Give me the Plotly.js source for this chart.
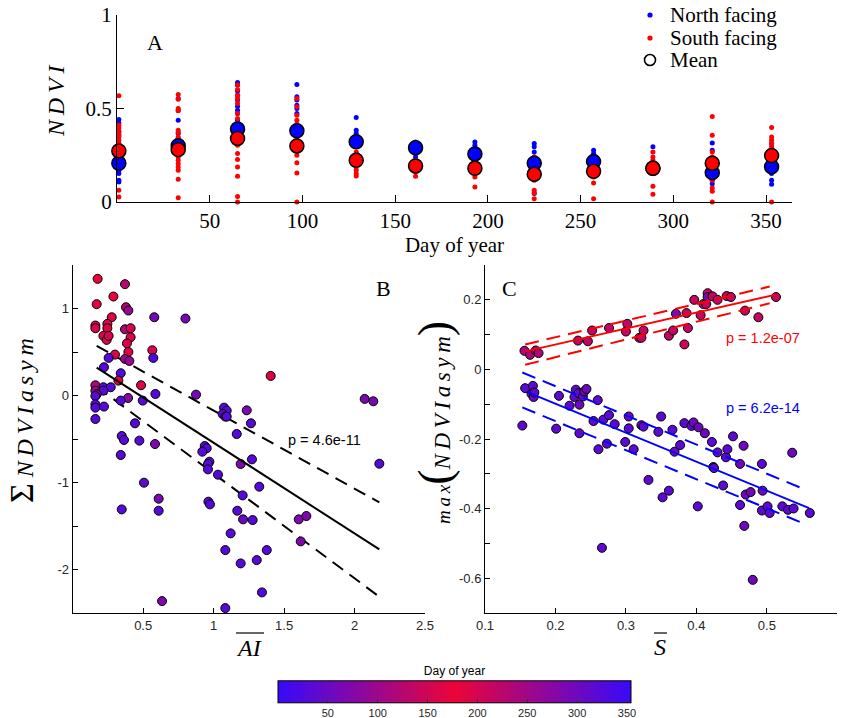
<!DOCTYPE html>
<html>
<head>
<meta charset="utf-8">
<script src="https://cdn.plot.ly/plotly-3.0.1.min.js"></script>
<style>html,body{margin:0;padding:0;background:#fff}#chart{width:845px;height:718px}</style>
</head>
<body>
<div id="chart"></div>
<script>
// ---------- Panel A data ----------
const days = [1, 33, 65, 97, 129, 161, 193, 225, 257, 289, 321, 353];
const northVals = [
  [0.441, 0.423, 0.375, 0.357, 0.259, 0.223, 0.20, 0.1875, 0.17, 0.152, 0.116, 0.107],
  [0.554, 0.491, 0.4375, 0.366, 0.339, 0.321, 0.30, 0.286, 0.27],
  [0.639, 0.625, 0.593, 0.571, 0.545, 0.5125, 0.491, 0.473, 0.4375, 0.41, 0.375, 0.348, 0.3125],
  [0.629, 0.5625, 0.545, 0.518, 0.5, 0.473, 0.402, 0.366, 0.33],
  [0.452, 0.384, 0.366, 0.348, 0.295, 0.259],
  [0.321, 0.304, 0.277, 0.259, 0.241],
  [0.321, 0.304, 0.28, 0.223],
  [0.3125, 0.295, 0.268, 0.241, 0.223, 0.045],
  [0.277, 0.259, 0.241, 0.196],
  [0.295, 0.205],
  [0.316, 0.277, 0.152, 0.135, 0.116, 0.098],
  [0.3125, 0.241, 0.2, 0.152, 0.116, 0.095]
];
const southVals = [
  [0.568, 0.41, 0.396, 0.38, 0.366, 0.348, 0.33, 0.313, 0.268, 0.0625, 0.027],
  [0.575, 0.55, 0.5, 0.4875, 0.384, 0.371, 0.348, 0.334, 0.241, 0.223, 0.205, 0.1875, 0.17, 0.121, 0.023],
  [0.625, 0.602, 0.571, 0.554, 0.527, 0.473, 0.446, 0.304, 0.259, 0.227, 0.1875, 0.1375, 0.03, 0.0],
  [0.554, 0.509, 0.464, 0.4375, 0.416, 0.393, 0.348, 0.277, 0.25, 0.21, 0.155, 0.0],
  [0.268, 0.241, 0.205, 0.1875, 0.17, 0.152, 0.139],
  [0.223, 0.1875, 0.16, 0.1375],
  [0.1875, 0.152, 0.134, 0.08],
  [0.241, 0.1875, 0.116, 0.0625, 0.048, 0.018],
  [0.15, 0.134, 0.102, 0.018],
  [0.268, 0.241, 0.223, 0.152, 0.084, 0.041],
  [0.457, 0.357, 0.268, 0.241, 0.116, 0.075, 0.057, 0.0],
  [0.398, 0.348, 0.33, 0.3125, 0.295, 0.277, 0.0]
];
const northMean = [0.207, 0.301, 0.39, 0.381, 0.322, 0.29, 0.257, 0.207, 0.216, 0.18, 0.157, 0.189];
const southMean = [0.273, 0.28, 0.34, 0.30, 0.223, 0.193, 0.18, 0.148, 0.164, 0.18, 0.207, 0.248];
const dayTicks = [50, 100, 150, 200, 250, 300, 350];
const legendLabels = ['North facing', 'South facing', 'Mean'];

// ---------- Panel B data ----------
const bAI = [0.177,0.371,0.170,0.289,0.378,0.395,0.579,0.800,0.277,0.161,0.161,0.246,0.246,0.371,0.411,0.218,0.241,0.255,0.411,0.385,
  0.395,0.300,0.565,0.572,0.255,0.371,0.402,0.222,0.341,0.324,0.485,0.161,0.218,0.270,0.161,0.218,0.170,0.161,0.587,0.875,
  0.393,0.341,0.497,0.161,0.161,0.222,0.161,0.442,0.348,0.364,0.473,0.584,0.341,0.506,0.348,0.610,0.610,0.634,1.074,1.093,
  1.064,1.083,1.093,1.235,1.265,1.164,0.937,0.951,0.920,0.970,0.960,0.960,1.192,1.031,1.272,0.963,0.974,1.206,1.324,1.168,
  1.209,1.277,1.121,1.083,1.192,1.306,1.377,1.343,1.083,1.405,2.072,2.133,2.176,1.604,1.658,1.618];
const bSum = [1.341,1.28,1.05,1.138,1.015,0.977,0.90,0.885,0.90,0.805,0.774,0.824,0.774,0.762,0.774,0.686,0.64,0.686,0.67,0.60,
  0.502,0.471,0.521,0.433,0.433,0.421,0.398,0.326,0.257,0.172,0.119,0.119,0.096,0.096,0.057,0.057,0.015,-0.004,0.019,0.011,
  -0.027,-0.057,-0.057,-0.10,-0.138,-0.126,-0.268,-0.318,-0.464,-0.51,-0.517,-0.556,-0.682,-1.0,-1.307,-1.184,-1.322,-2.36,-0.138,-0.172,
  -0.211,-0.241,-0.241,-0.169,-0.318,-0.441,-0.579,-0.605,-0.644,-0.759,-0.785,-0.847,-0.785,-0.908,-0.732,-1.218,-1.249,-1.146,-1.046,-1.322,
  -1.421,-1.429,-1.582,-1.774,-1.927,-1.889,-1.774,-2.26,-2.44,0.226,-0.038,-0.065,-0.782,-1.421,-1.383,-1.674];
const bDay = [177,125,170,175,120,95,60,60,165,150,160,160,165,115,160,165,160,155,160,160,
  165,160,160,25,30,95,95,30,25,165,165,120,30,30,100,30,115,30,30,60,
  80,30,30,30,30,30,30,30,30,30,30,70,30,40,30,70,30,70,30,30,
  30,80,30,70,30,30,30,30,30,30,30,30,70,30,30,30,30,30,30,30,
  50,30,30,30,30,30,30,30,30,165,65,65,30,70,70,70];
const bFitX = [0.170, 2.176];
const bFitY = [0.322, -1.766];
const bUpperY = [0.571, -1.226];
const bLowerY = [0.103, -2.31];

// ---------- Panel C data ----------
const cPosS = [0.156,0.164,0.172,0.176,0.232,0.246,0.252,0.276,0.300,0.302,0.319,0.322,0.325,0.361,0.367,0.371,0.383,0.386,0.388,0.397,
  0.406,0.410,0.414,0.416,0.416,0.423,0.430,0.443,0.449,0.469,0.488,0.513];
const cPosMax = [0.0536,0.042,0.0545,0.047,0.083,0.081,0.112,0.119,0.109,0.131,0.091,0.091,0.112,0.097,0.112,0.160,0.072,0.162,0.119,0.200,
  0.156,0.188,0.188,0.219,0.208,0.210,0.200,0.211,0.208,0.169,0.150,0.208];
const cPosDay = [115,115,120,115,130,135,140,135,140,140,140,140,140,140,140,70,145,140,140,145,
  140,140,140,140,70,140,145,140,140,140,140,140];
const cNegS = [0.153,0.157,0.168,0.166,0.169,0.170,0.201,0.205,0.220,0.229,0.227,0.233,0.234,0.234,0.239,0.241,0.244,0.260,0.254,0.261,
  0.268,0.266,0.273,0.276,0.284,0.299,0.304,0.304,0.311,0.322,0.325,0.332,0.346,0.350,0.352,0.361,0.366,0.369,0.377,0.383,
  0.393,0.396,0.403,0.402,0.412,0.422,0.424,0.425,0.430,0.438,0.442,0.444,0.452,0.462,0.462,0.467,0.468,0.470,0.477,0.480,
  0.493,0.493,0.494,0.501,0.504,0.522,0.530,0.538,0.536,0.561];
const cNegMax = [-0.161,-0.0536,-0.047,-0.070,-0.079,-0.066,-0.170,-0.0756,-0.104,-0.058,-0.079,-0.068,-0.101,-0.183,-0.0775,-0.063,-0.056,-0.088,-0.148,-0.229,
  -0.144,-0.512,-0.213,-0.131,-0.157,-0.208,-0.135,-0.169,-0.229,-0.160,-0.164,-0.317,-0.179,-0.135,-0.367,-0.348,-0.173,-0.236,-0.217,-0.154,
  -0.162,-0.152,-0.166,-0.393,-0.183,-0.208,-0.280,-0.283,-0.238,-0.333,-0.252,-0.229,-0.192,-0.389,-0.271,-0.219,-0.449,-0.359,-0.352,-0.604,
  -0.271,-0.405,-0.348,-0.393,-0.412,-0.393,-0.403,-0.399,-0.239,-0.412];
const cNegDay = [35,35,40,55,55,40,35,40,35,40,40,40,55,35,40,55,55,40,35,35,
  35,40,35,35,35,35,55,35,35,35,35,35,35,35,35,35,35,55,35,35,
  35,55,55,35,55,35,55,40,35,35,35,35,35,35,55,55,55,55,55,55,
  35,35,55,35,35,35,35,35,55,35];
const cPosFitX = [0.157, 0.513];
const cPosFitY = [0.052, 0.215];
const cPosBandX = [0.157, 0.504];
const cPosUpperY = [0.072, 0.238];
const cPosLowerY = [0.0134, 0.190];
const cNegFitX = [0.160, 0.560];
const cNegFitY = [-0.065, -0.398];
const cNegBandX = [0.153, 0.551];
const cNegUpperY = [-0.0086, -0.342];
const cNegLowerY = [-0.109, -0.441];

const colorTicks = [50, 100, 150, 200, 250, 300, 350];

// ---------- build ----------
const SERIF = 'Liberation Serif, Times New Roman, serif';
const SANS = 'Liberation Sans, Arial, sans-serif';
const BLUE = 'rgb(0,0,255)', RED = 'rgb(255,0,0)';

function flatten(vals) {
  const x = [], y = [];
  vals.forEach((arr, i) => arr.forEach(v => { x.push(days[i]); y.push(v); }));
  return {x, y};
}
const nF = flatten(northVals), sF = flatten(southVals);

const traces = [
  {type:'scatter', mode:'markers', x:nF.x, y:nF.y, xaxis:'x', yaxis:'y', name:legendLabels[0], showlegend:false,
   marker:{color:BLUE, size:5}, cliponaxis:false},
  {type:'scatter', mode:'markers', x:sF.x, y:sF.y, xaxis:'x', yaxis:'y', name:legendLabels[1], showlegend:false,
   marker:{color:RED, size:5}, cliponaxis:false},
  {type:'scatter', mode:'markers', x:days, y:northMean, xaxis:'x', yaxis:'y', name:legendLabels[2], showlegend:false,
   marker:{color:BLUE, size:14, line:{color:'black', width:1.5}}, cliponaxis:false},
  {type:'scatter', mode:'markers', x:days, y:southMean, xaxis:'x', yaxis:'y', name:legendLabels[2], showlegend:false,
   marker:{color:RED, size:14, line:{color:'black', width:1.5}}, cliponaxis:false},
  // Panel B
  {type:'scatter', mode:'lines', x:bFitX, y:bUpperY, xaxis:'x2', yaxis:'y2', showlegend:false,
   line:{color:'black', width:2, dash:'13px,8px'}},
  {type:'scatter', mode:'lines', x:bFitX, y:bLowerY, xaxis:'x2', yaxis:'y2', showlegend:false,
   line:{color:'black', width:2, dash:'13px,8px'}},
  {type:'scatter', mode:'markers', x:bAI, y:bSum, xaxis:'x2', yaxis:'y2', showlegend:false,
   marker:{color:bDay, coloraxis:'coloraxis', size:9, line:{color:'black', width:1}}, cliponaxis:false},
  {type:'scatter', mode:'lines', x:bFitX, y:bFitY, xaxis:'x2', yaxis:'y2', showlegend:false,
   line:{color:'black', width:2}},
  // Panel C
  {type:'scatter', mode:'markers', x:cPosS, y:cPosMax, xaxis:'x3', yaxis:'y3', showlegend:false,
   marker:{color:cPosDay, coloraxis:'coloraxis', size:9, line:{color:'black', width:1}}, cliponaxis:false},
  {type:'scatter', mode:'markers', x:cNegS, y:cNegMax, xaxis:'x3', yaxis:'y3', showlegend:false,
   marker:{color:cNegDay, coloraxis:'coloraxis', size:9, line:{color:'black', width:1}}, cliponaxis:false},
  {type:'scatter', mode:'lines', x:cPosFitX, y:cPosFitY, xaxis:'x3', yaxis:'y3', showlegend:false, line:{color:RED, width:2}},
  {type:'scatter', mode:'lines', x:cPosBandX, y:cPosUpperY, xaxis:'x3', yaxis:'y3', showlegend:false, line:{color:RED, width:2, dash:'14px,8px'}},
  {type:'scatter', mode:'lines', x:cPosBandX, y:cPosLowerY, xaxis:'x3', yaxis:'y3', showlegend:false, line:{color:RED, width:2, dash:'14px,8px'}},
  {type:'scatter', mode:'lines', x:cNegFitX, y:cNegFitY, xaxis:'x3', yaxis:'y3', showlegend:false, line:{color:BLUE, width:2}},
  {type:'scatter', mode:'lines', x:cNegBandX, y:cNegUpperY, xaxis:'x3', yaxis:'y3', showlegend:false, line:{color:BLUE, width:2, dash:'14px,8px'}},
  {type:'scatter', mode:'lines', x:cNegBandX, y:cNegLowerY, xaxis:'x3', yaxis:'y3', showlegend:false, line:{color:BLUE, width:2, dash:'14px,8px'}}
];

const W = 845, H = 718;
const px = v => v / W, py = v => 1 - v / H;

const baseAxis = {showline:true, linecolor:'black', linewidth:1, ticks:'inside', tickcolor:'black',
  showgrid:false, zeroline:false, mirror:false, fixedrange:true};
const sansTick = {family:SANS, size:13, color:'#262626'};

const bYvals = [-2.5,-2,-1.5,-1,-0.5,0,0.5,1,1.5];
const bYtext = ['', '-2', '', '-1', '', '0', '', '1', ''];
const cYvals = [-0.7,-0.6,-0.5,-0.4,-0.3,-0.2,-0.1,0,0.1,0.2,0.3];
const cYtext = ['', '-0.6', '', '-0.4', '', '-0.2', '', '0', '', '0.2', ''];

function ann(text, x, y, font, extra) {
  return Object.assign({text, x:px(x), y:py(y), xref:'paper', yref:'paper', showarrow:false,
    xanchor:'center', yanchor:'middle', font}, extra || {});
}
const serifF = (s, c) => ({family:SERIF, size:s, color:c || 'black'});
const sansF = (s, c) => ({family:SANS, size:s, color:c || 'black'});

// legend (text + symbol shapes)
const legendY = [15, 38, 60];
const legendAnn = legendLabels.map((t, i) => ann(t, 668, legendY[i], serifF(21), {xanchor:'left'}));
function circ(cx, cy, r, fill, lw) {
  return {type:'circle', xref:'paper', yref:'paper', x0:px(cx - r), x1:px(cx + r), y0:py(cy + r), y1:py(cy - r),
    fillcolor:fill, line:{color: lw ? 'black' : fill, width: lw || 0}};
}

const layout = {
  width: W, height: H,
  margin: {l:0, r:0, t:0, b:0, autoexpand:false},
  paper_bgcolor:'white', plot_bgcolor:'white',
  showlegend: false,
  xaxis: Object.assign({}, baseAxis, {domain:[px(117), px(792)], range:[0, 364], anchor:'y',
    tickvals: dayTicks, ticklen:7, tickfont:serifF(21),
    title:{text:'Day of year', font:serifF(21), standoff:0}}),
  yaxis: Object.assign({}, baseAxis, {domain:[py(202), py(15)], range:[0, 1], anchor:'x',
    tickvals:[0, 0.5, 1], ticktext:['0', '0.5', '1'], ticklen:7, tickfont:serifF(21)}),
  xaxis2: Object.assign({}, baseAxis, {domain:[px(72.7), px(425)], range:[0, 2.5], anchor:'y2',
    tickvals:[0.5, 1, 1.5, 2, 2.5], ticktext:['0.5','1','1.5','2','2.5'], ticklen:5, tickfont:sansTick}),
  yaxis2: Object.assign({}, baseAxis, {domain:[py(613.3), py(265)], range:[-2.5, 1.5], anchor:'x2',
    tickvals:bYvals, ticktext:bYtext, ticklen:5, tickfont:sansTick}),
  xaxis3: Object.assign({}, baseAxis, {domain:[px(485), px(837.3)], range:[0.1, 0.6], anchor:'y3',
    tickvals:[0.1,0.2,0.3,0.4,0.5,0.6], ticktext:['0.1','0.2','0.3','0.4','0.5','0.6'], ticklen:5, tickfont:sansTick}),
  yaxis3: Object.assign({}, baseAxis, {domain:[py(613.3), py(265)], range:[-0.7, 0.3], anchor:'x3',
    tickvals:cYvals, ticktext:cYtext, ticklen:5, tickfont:sansTick}),
  coloraxis: {
    cmin: 0, cmax: 354,
    colorscale: [[0, 'rgb(55,10,250)'], [0.5, 'rgb(235,5,55)'], [1, 'rgb(55,10,250)']],
    colorbar: {orientation:'h', x: px(454.5), xanchor:'center', y: -0.008, yanchor:'bottom',
      len: 353, lenmode:'pixels', thickness: 22, thicknessmode:'pixels', xpad:0, ypad:0,
      outlinewidth:1, outlinecolor:'black', ticks:'inside', ticklen:4, tickcolor:'#333',
      tickvals: colorTicks, tickfont:sansF(11, '#262626'),
      title:{text:'Day of year', side:'top', font:sansF(12)}}
  },
  annotations: legendAnn.concat([
    ann('A', 155, 43, serifF(22)),
    ann('B', 383, 289, serifF(22)),
    ann('C', 509, 289, serifF(22)),
    ann('<i>N\u2009D\u2009V\u2009I</i>', 56, 101, serifF(24), {textangle:-90}),
    ann('<span style="font-size:34px">\u03A3</span> <i>N\u2009D\u2009V\u2009I\u2009a\u2009s\u2009y\u2009m</i>', 21, 421, serifF(24), {textangle:-90}),
    ann('<i><span style="font-size:19px">m\u2009a\u2009x</span></i><span style="font-size:46px">(</span><i>N\u2009D\u2009V\u2009I\u2009a\u2009s\u2009y\u2009m</i><span style="font-size:46px">)</span>',
        434, 423, serifF(23), {textangle:-90}),
    ann('<i>AI</i>', 249, 648, serifF(24)),
    ann('<i>S</i>', 660, 647, serifF(24)),
    ann('p = 4.6e-11', 324, 440, sansF(14.5)),
    ann('p = 1.2e-07', 763, 338, sansF(14.5, RED)),
    ann('p = 6.2e-14', 763, 408, sansF(14.5, BLUE))
  ]),
  shapes: [
    {type:'line', xref:'paper', yref:'paper', x0:px(236), x1:px(264), y0:py(633), y1:py(633), line:{color:'black', width:1.2}},
    {type:'line', xref:'paper', yref:'paper', x0:px(654), x1:px(667), y0:py(633), y1:py(633), line:{color:'black', width:1.2}},
    circ(650, legendY[0], 2.6, BLUE),
    circ(650, legendY[1], 2.6, RED),
    circ(650, legendY[2], 5.5, 'rgba(0,0,0,0)', 1.6)
  ]
};

Plotly.newPlot('chart', traces, layout, {displayModeBar:false, staticPlot:true});
</script>
</body>
</html>
